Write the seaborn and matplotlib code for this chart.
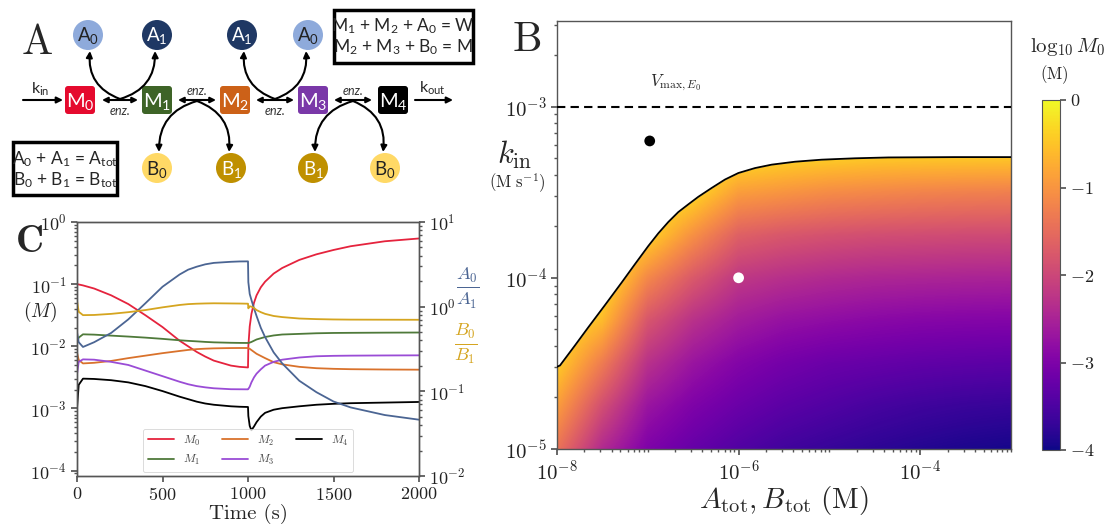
import numpy as np
import matplotlib
matplotlib.use("Agg")
import matplotlib.pyplot as plt
import seaborn as sns
import pandas as pd
from matplotlib.patches import Circle, FancyBboxPatch, FancyArrowPatch, Rectangle
from matplotlib.lines import Line2D
from matplotlib.ticker import LogLocator, NullFormatter, FixedLocator

# ---------------- data: panel C (time courses) ----------------
time_s = [0, 10, 35, 100, 200, 300, 400, 500, 600, 650, 700, 750, 800, 900, 950, 1000, 1002, 1010,
          1020, 1035, 1050, 1075, 1100, 1150, 1200, 1300, 1400, 1500, 1600, 1800, 2000]
log_M0 = [-1.00, -1.005, -1.02, -1.07, -1.18, -1.32, -1.50, -1.69, -1.91, -2.00, -2.09, -2.165, -2.23, -2.31, -2.33,
          -2.34, -2.00, -1.68, -1.48, -1.30, -1.18, -1.05, -0.96, -0.83, -0.74, -0.61, -0.52, -0.45, -0.39, -0.31, -0.265]
log_M1 = [-1.96, -1.86, -1.807, -1.812, -1.828, -1.843, -1.86, -1.88, -1.903, -1.912, -1.92, -1.929, -1.936, -1.943,
          -1.945, -1.946, -1.945, -1.94, -1.93, -1.91, -1.89, -1.87, -1.85, -1.825, -1.81, -1.80, -1.79, -1.785, -1.783,
          -1.78, -1.778]
log_M2 = [-2.10, -2.22, -2.275, -2.265, -2.235, -2.19, -2.15, -2.11, -2.075, -2.058, -2.045, -2.038, -2.033, -2.028,
          -2.027, -2.027, -2.03, -2.04, -2.06, -2.09, -2.12, -2.155, -2.19, -2.255, -2.29, -2.33, -2.352, -2.362,
          -2.368, -2.373, -2.376]
log_M3 = [-2.45, -2.25, -2.21, -2.215, -2.25, -2.30, -2.39, -2.48, -2.57, -2.61, -2.64, -2.66, -2.675, -2.69, -2.691,
          -2.692, -2.685, -2.65, -2.58, -2.50, -2.44, -2.37, -2.31, -2.25, -2.215, -2.18, -2.16, -2.153, -2.15,
          -2.147, -2.145]
log_M4 = [-3.00, -2.62, -2.52, -2.525, -2.545, -2.58, -2.64, -2.72, -2.81, -2.85, -2.89, -2.92, -2.94, -2.965, -2.972,
          -2.976, -3.12, -3.28, -3.35, -3.29, -3.22, -3.13, -3.07, -3.02, -2.995, -2.965, -2.94, -2.925, -2.915,
          -2.905, -2.895]
log_A_ratio = [-0.30, -0.42, -0.476, -0.42, -0.31, -0.15, 0.04, 0.235, 0.38, 0.437, 0.472, 0.50, 0.517, 0.53, 0.534,
               0.535, 0.29, 0.15, 0.08, -0.02, -0.11, -0.25, -0.36, -0.54, -0.67, -0.875, -1.01, -1.12, -1.19,
               -1.28, -1.335]
log_B_ratio = [0.07, -0.06, -0.10, -0.098, -0.085, -0.065, -0.04, -0.008, 0.02, 0.03, 0.035, 0.038, 0.04, 0.038,
               0.037, 0.035, -0.02, 0.005, 0.0, -0.015, -0.04, -0.065, -0.085, -0.11, -0.123, -0.14, -0.147,
               -0.151, -0.153, -0.154, -0.155]
species = ["M0", "M1", "M2", "M3", "M4"]
species_labels = [r"$M_0$", r"$M_1$", r"$M_2$", r"$M_3$", r"$M_4$"]
species_colors = ["#e5233d", "#4f7a3a", "#d9722c", "#9a4cd6", "#000000"]
ratio_colors = {"A": "#4b6593", "B": "#d5a520"}

# ---------------- data: panel B (phase diagram) ----------------
heat_log_A = [-8, -7.5, -7, -6.5, -6, -5.5, -5, -4.5, -4, -3.5, -3]
heat_log_k = [-5, -4.75, -4.5, -4.25, -4, -3.75, -3.5, -3.25]
heat_cols = [  # log10 M0, one list per A column, from low k to high k
    [-1.4, -0.9, -0.4, -0.1, 0.0, 0.0, 0.0, 0.0],
    [-2.4, -1.9, -1.3, -0.6, -0.1, 0.0, 0.0, 0.0],
    [-3.0, -2.7, -2.3, -1.8, -1.15, -0.35, 0.0, 0.0],
    [-3.25, -3.0, -2.7, -2.3, -1.75, -1.05, -0.3, 0.0],
    [-3.45, -3.2, -2.95, -2.6, -2.2, -1.65, -0.9, -0.1],
    [-3.6, -3.35, -3.1, -2.75, -2.32, -1.78, -1.0, -0.2],
    [-3.7, -3.45, -3.2, -2.82, -2.4, -1.85, -1.1, -0.25],
    [-3.78, -3.55, -3.25, -2.88, -2.45, -1.9, -1.15, -0.3],
    [-3.85, -3.62, -3.3, -2.92, -2.47, -1.92, -1.2, -0.3],
    [-3.91, -3.67, -3.33, -2.94, -2.49, -1.94, -1.23, -0.3],
    [-3.95, -3.7, -3.35, -2.95, -2.5, -1.95, -1.25, -0.3],
]
bnd_log_A = [-8.0, -7.967, -7.802, -7.655, -7.471, -7.287, -7.141, -6.994, -6.884, -6.774, -6.664, -6.554, -6.444,
             -6.296, -6.150, -6.003, -5.819, -5.635, -5.379, -5.085, -4.718, -4.351, -3.617, -3.0]
bnd_log_k = [-4.52, -4.512, -4.395, -4.289, -4.159, -4.027, -3.920, -3.814, -3.740, -3.674, -3.616, -3.571, -3.527,
             -3.475, -3.426, -3.388, -3.359, -3.339, -3.322, -3.310, -3.302, -3.297, -3.295, -3.295]
vmax_E0 = 1e-3
black_pt = (1.05e-7, 6.3e-4)
white_pt = (1e-6, 1e-4)
cbar_ticks = [0, -1, -2, -3, -4]

# ---------------- style ----------------
sns.set_theme(style="ticks")
plt.rcParams.update({
    "font.family": ["cmr10", "DejaVu Serif"],
    "mathtext.fontset": "cm",
    "axes.formatter.use_mathtext": True,
    "axes.unicode_minus": False,
    "axes.edgecolor": "#555555",
    "axes.linewidth": 1.0,
    "xtick.color": "#555555",
    "ytick.color": "#555555",
    "xtick.labelcolor": "#222222",
    "ytick.labelcolor": "#222222",
})

W, H = 1112, 524
def rect(l, t, r, b):
    return [l / W, 1 - b / H, (r - l) / W, (b - t) / H]
def fxy(x, y):
    return x / W, 1 - y / H

fig = plt.figure(figsize=(W / 100, H / 100), dpi=100)

# ---------------- panel A (schematic) ----------------
axA = fig.add_axes([0, 0, 1, 1])
axA.set_xlim(0, W); axA.set_ylim(H, 0); axA.axis("off")
sans = "Lato"
fig.text(*fxy(37, 43), "A", fontsize=30, family="cmr10", ha="center", va="center")

box_x = [80, 157, 235, 313, 393]
box_y = 100
box_colors = ["#e50a2e", "#3e6427", "#cc6118", "#7a38a8", "#000000"]
for i, (bx, bc) in enumerate(zip(box_x, box_colors)):
    axA.add_patch(FancyBboxPatch((bx - 13, box_y - 12), 26, 24, boxstyle="round,pad=2,rounding_size=3",
                                 fc=bc, ec="none"))
    axA.text(bx, box_y + 1, r"$\mathregular{M_%d}$" % i, color="white", fontsize=14.5, family=sans,
             ha="center", va="center")

circ_top = [(88, 35, "A", 0), (157, 35, "A", 1), (242, 35, "A", 1), (308, 35, "A", 0)]
circ_bot = [(157, 168, "B", 0), (231, 168, "B", 1), (313, 168, "B", 1), (385, 168, "B", 0)]
circ_fc = {("A", 0): "#8eaadb", ("A", 1): "#1f3864", ("B", 0): "#ffd966", ("B", 1): "#bf9000"}
circ_tc = {("A", 0): "#222222", ("A", 1): "white", ("B", 0): "#222222", ("B", 1): "white"}
for cx, cy, L, k in circ_top + circ_bot:
    axA.add_patch(Circle((cx, cy), 15, fc=circ_fc[(L, k)], ec="none"))
    axA.text(cx, cy + 1, r"$\mathregular{%s_%d}$" % (L, k), color=circ_tc[(L, k)], fontsize=13.5,
             family=sans, ha="center", va="center")

def arrow(p1, p2, style="-|>", rad=0.0, ms=9):
    axA.add_patch(FancyArrowPatch(p1, p2, arrowstyle=style, connectionstyle="arc3,rad=%g" % rad,
                                  mutation_scale=ms, lw=1.5, color="black", shrinkA=0, shrinkB=0))

# inflow / outflow
arrow((23, 100), (63, 100))
arrow((415, 100), (453, 100))
axA.text(40, 89, r"$\mathregular{k_{in}}$", fontsize=11.5, family=sans, ha="center", va="center")
axA.text(432, 88, r"$\mathregular{k_{out}}$", fontsize=11.5, family=sans, ha="center", va="center")
# reversible enzymatic steps
pairs = [(102, 138, 111), (178, 216, 91), (256, 294, 111), (334, 372, 91)]
for x1, x2, ty in pairs:
    arrow((x1, 100), (x2, 100), style="<|-|>", ms=8)
    axA.text((x1 + x2) / 2, ty, "enz.", fontsize=9, style="italic", family=sans, ha="center", va="center",
             color="#333333")
# cofactor arcs
arcs_up = [(120, 88, 157), (275, 242, 308)]
for mx, lx, rx in arcs_up:
    arrow((mx, 99), (lx + 2, 51), rad=-0.38)
    arrow((mx, 99), (rx - 2, 51), rad=0.38)
arcs_dn = [(197, 157, 231), (353, 313, 385)]
for mx, lx, rx in arcs_dn:
    arrow((mx, 101), (lx + 2, 152), rad=0.38)
    arrow((mx, 101), (rx - 2, 152), rad=-0.38)
# conservation boxes
axA.add_patch(Rectangle((334, 10), 139, 53, fc="white", ec="black", lw=2.5))
axA.text(403, 26, r"$\mathregular{M_1}$ + $\mathregular{M_2}$ + $\mathregular{A_0}$ = W", fontsize=12.5,
         family=sans, ha="center", va="center")
axA.text(403, 47, r"$\mathregular{M_2}$ + $\mathregular{M_3}$ + $\mathregular{B_0}$ = M", fontsize=12.5,
         family=sans, ha="center", va="center")
axA.add_patch(Rectangle((13, 142), 104, 53, fc="white", ec="black", lw=2.5))
axA.text(65, 159, r"$\mathregular{A_0}$ + $\mathregular{A_1}$ = $\mathregular{A_{tot}}$", fontsize=12.5,
         family=sans, ha="center", va="center")
axA.text(65, 180, r"$\mathregular{B_0}$ + $\mathregular{B_1}$ = $\mathregular{B_{tot}}$", fontsize=12.5,
         family=sans, ha="center", va="center")

# ---------------- panel C ----------------
axC = fig.add_axes(rect(77, 222, 419, 476))
logs = [log_M0, log_M1, log_M2, log_M3, log_M4]
df = pd.DataFrame({
    "t": np.tile(time_s, len(species)),
    "conc": np.concatenate([10 ** np.array(v) for v in logs]),
    "species": np.repeat(species, len(time_s)),
})
sns.lineplot(data=df, x="t", y="conc", hue="species", palette=dict(zip(species, species_colors)),
             ax=axC, legend=False, lw=1.3, sort=False, estimator=None)
axC.set_yscale("log")
axC.set_xlim(0, 2000)
axC.set_ylim(8.2e-5, 1)
axC.set_xticks([0, 500, 1000, 1500, 2000])
axC.yaxis.set_major_locator(FixedLocator([1e-4, 1e-3, 1e-2, 1e-1, 1]))
axC.yaxis.set_minor_locator(LogLocator(base=10, subs=np.arange(2, 10), numticks=20))
axC.yaxis.set_minor_formatter(NullFormatter())
axC.tick_params(labelsize=13, length=4)
axC.tick_params(which="minor", length=2)
axC.set_xlabel("Time (s)", fontsize=15, labelpad=0)
axC.set_ylabel("")
fig.text(*fxy(40, 312), r"$(M)$", fontsize=14, ha="center", va="center")
fig.text(*fxy(30, 242), "C", fontsize=28, family="cmb10", ha="center", va="center")
handles = [Line2D([], [], color=c, lw=1.3) for c in species_colors]
leg = axC.legend(handles, species_labels, ncol=3, loc="lower center", bbox_to_anchor=(0.5, 0.015),
                 fontsize=8.5, handlelength=2.2, columnspacing=1.8, borderaxespad=0, frameon=True,
                 labelcolor="#444444")
leg.get_frame().set_linewidth(0.6)

axR = axC.twinx()
dfr = pd.DataFrame({
    "t": np.tile(time_s, 2),
    "ratio": np.concatenate([10 ** np.array(log_A_ratio), 10 ** np.array(log_B_ratio)]),
    "pair": np.repeat(["A", "B"], len(time_s)),
})
sns.lineplot(data=dfr, x="t", y="ratio", hue="pair", palette=ratio_colors, ax=axR, legend=False,
             lw=1.3, sort=False, estimator=None)
axR.set_yscale("log")
axR.set_ylim(1e-2, 10)
axR.set_xlim(0, 2000)
axR.yaxis.set_major_locator(FixedLocator([1e-2, 1e-1, 1, 10]))
axR.yaxis.set_minor_locator(LogLocator(base=10, subs=np.arange(2, 10), numticks=20))
axR.yaxis.set_minor_formatter(NullFormatter())
axR.tick_params(labelsize=13, length=4)
axR.tick_params(which="minor", length=2)
axR.set_ylabel("")
fig.text(*fxy(468, 287), r"$\frac{A_0}{A_1}$", fontsize=19, color=ratio_colors["A"], ha="center", va="center")
fig.text(*fxy(466, 343), r"$\frac{B_0}{B_1}$", fontsize=19, color=ratio_colors["B"], ha="center", va="center")

# ---------------- panel B ----------------
axH = fig.add_axes(rect(557, 21, 1011, 449))
ZZ = np.array(heat_cols).T
dA = (heat_log_A[1] - heat_log_A[0]) / 2
dk = (heat_log_k[1] - heat_log_k[0]) / 2
img = axH.imshow(ZZ, origin="lower", aspect="auto", cmap="plasma", vmin=-4, vmax=0, interpolation="bilinear",
                 extent=[heat_log_A[0] - dA, heat_log_A[-1] + dA, heat_log_k[0] - dk, heat_log_k[-1] + dk])
axH.set_xlim(-8, -3)
axH.set_ylim(-5, -2.5)
axH.axis("off")

axB = fig.add_axes(rect(557, 21, 1011, 449))
axB.set_facecolor("none")
bx = 10.0 ** np.array(bnd_log_A)
by = 10.0 ** np.array(bnd_log_k)
axB.set_xscale("log"); axB.set_yscale("log")
axB.set_xlim(1e-8, 1e-3)
axB.set_ylim(1e-5, 10 ** -2.5)
axB.fill_between(bx, by, 10 ** -2.5, color="white", zorder=2, lw=0)
sns.lineplot(x=bx, y=by, ax=axB, color="black", lw=1.3, sort=False, estimator=None, zorder=3)
axB.axhline(vmax_E0, color="black", ls=(0, (4, 2.5)), lw=1.5, zorder=3)
sns.scatterplot(x=[black_pt[0]], y=[black_pt[1]], ax=axB, color="black", s=60, edgecolor="none", zorder=4)
sns.scatterplot(x=[white_pt[0]], y=[white_pt[1]], ax=axB, color="white", s=60, edgecolor="none", zorder=4)
axB.text(2.0e-7, 10 ** -2.86, r"$V_{\max,E_0}$", fontsize=12, ha="center", va="center")
axB.xaxis.set_major_locator(FixedLocator([1e-8, 1e-6, 1e-4]))
axB.xaxis.set_minor_locator(LogLocator(base=10, subs=np.arange(1, 10), numticks=30))
axB.xaxis.set_minor_formatter(NullFormatter())
axB.yaxis.set_major_locator(FixedLocator([1e-5, 1e-4, 1e-3]))
axB.yaxis.set_minor_locator(LogLocator(base=10, subs=np.arange(2, 10), numticks=30))
axB.yaxis.set_minor_formatter(NullFormatter())
axB.tick_params(labelsize=15, length=4)
axB.tick_params(which="minor", length=2)
axB.set_xlabel(r"$A_{\rm tot}, B_{\rm tot}\ ({\rm M})$", fontsize=21, labelpad=0)
axB.set_ylabel("")
fig.text(*fxy(515, 155), r"$k_{\rm in}$", fontsize=22, ha="center", va="center")
fig.text(*fxy(517, 183), r"$({\rm M\ s^{-1}})$", fontsize=12, ha="center", va="center")
fig.text(*fxy(527, 40), "B", fontsize=30, family="cmr10", ha="center", va="center")

cax = fig.add_axes(rect(1042, 100, 1060, 450))
cb = fig.colorbar(img, cax=cax, ticks=cbar_ticks)
cb.outline.set_linewidth(0.8)
cax.set_yticklabels([r"$%d$" % v for v in cbar_ticks])
cax.tick_params(labelsize=13, length=4)
fig.text(*fxy(1068, 47), r"$\log_{10} M_0$", fontsize=15, ha="center", va="center")
fig.text(*fxy(1054, 75), r"$({\rm M})$", fontsize=12, ha="center", va="center")

fig.savefig("out.png", dpi=100)
